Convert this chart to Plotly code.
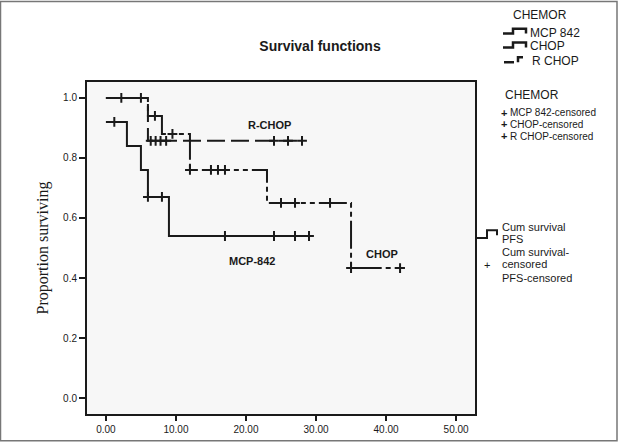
import plotly.graph_objects as go

# ---- data ----
mcp_t = [0, 3, 5, 6, 9, 29]
mcp_s = [0.92, 0.84, 0.76, 0.67, 0.54, 0.54]
mcp_cens_t = [1.2, 6, 8, 17, 24, 27, 29]
mcp_cens_s = [0.92, 0.67, 0.67, 0.54, 0.54, 0.54, 0.54]

rchop_t = [0, 6, 28]
rchop_s = [1.0, 0.857, 0.857]
rchop_cens_t = [2.2, 5, 6.4, 7.1, 7.8, 8.6, 24, 26, 28]
rchop_cens_s = [1.0, 1.0, 0.857, 0.857, 0.857, 0.857, 0.857, 0.857, 0.857]

chop_t = [0, 6, 8, 12, 23, 35, 42]
chop_s = [1.0, 0.94, 0.88, 0.76, 0.65, 0.433, 0.433]
chop_cens_t = [7, 9.5, 12, 15, 16, 17, 25, 27, 32, 35, 42]
chop_cens_s = [0.94, 0.88, 0.76, 0.76, 0.76, 0.76, 0.65, 0.65, 0.65, 0.433, 0.433]

x_ticks = [0, 10, 20, 30, 40, 50]
x_tick_labels = ["0.00", "10.00", "20.00", "30.00", "40.00", "50.00"]
y_ticks = [0, 0.2, 0.4, 0.6, 0.8, 1.0]
y_tick_labels = ["0.0", "0.2", "0.4", "0.6", "0.8", "1.0"]

W, H = 618, 447
L, R, T, B = 87, 143, 82, 29
PW, PH = W - L - R, H - T - B
INK = "#1a1a1a"


def px(x):
    return (x - L) / PW


def py(y):
    return (H - B - y) / PH


fig = go.Figure()

# curves
fig.add_trace(go.Scatter(x=mcp_t, y=mcp_s, mode="lines", line_shape="hv",
                         line=dict(color=INK, width=2), hoverinfo="skip"))
fig.add_trace(go.Scatter(x=rchop_t, y=rchop_s, mode="lines", line_shape="hv",
                         line=dict(color=INK, width=2, dash="18px,6px"), hoverinfo="skip"))
fig.add_trace(go.Scatter(x=chop_t, y=chop_s, mode="lines", line_shape="hv",
                         line=dict(color=INK, width=2, dash="5px,4px,5px,4px,28px,4px"),
                         hoverinfo="skip"))

# censor marks
for tx, sy in [(mcp_cens_t, mcp_cens_s), (rchop_cens_t, rchop_cens_s), (chop_cens_t, chop_cens_s)]:
    fig.add_trace(go.Scatter(x=tx, y=sy, mode="markers",
                             marker=dict(symbol="cross-thin", size=7,
                                         line=dict(color=INK, width=2)),
                             hoverinfo="skip"))

# in-plot labels
lab_font = dict(family="Liberation Sans, Arial", size=11, color=INK)
for txt, x, y in [("R-CHOP", 23.4, 0.91), ("MCP-842", 20.9, 0.457), ("CHOP", 39.4, 0.48)]:
    fig.add_annotation(x=x, y=y, text="<b>%s</b>" % txt, showarrow=False, font=lab_font)

shapes = []
# outer frame
shapes.append(dict(type="rect", xref="paper", yref="paper",
                   x0=px(0.5), x1=px(W - 1), y0=py(H - 2), y1=py(0.5),
                   line=dict(color="#777777", width=1.5), layer="below"))


def path_shape(pts, dash="solid", width=2.5):
    d = "M " + " L ".join("%f,%f" % (px(a), py(b)) for a, b in pts)
    return dict(type="path", xref="paper", yref="paper", path=d,
                line=dict(color=INK, width=width, dash=dash))


# top legend step icons
shapes.append(path_shape([(503, 33), (513, 33), (513, 28), (526, 28), (526, 33)]))
shapes.append(path_shape([(503, 47), (513, 47), (513, 42), (526, 42), (526, 47)]))
shapes.append(path_shape([(504, 62), (514, 62)]))
shapes.append(path_shape([(518, 62), (518, 57), (523, 57)]))
# right legend icon
shapes.append(path_shape([(476, 240), (487, 240), (487, 232), (497, 232), (497, 237)], width=2))

fig.update_layout(shapes=shapes)

ann_font = dict(family="Liberation Sans, Arial", color=INK)


def text(x, y, s, size, anchor="left"):
    fig.add_annotation(xref="paper", yref="paper", x=px(x), y=py(y), text=s,
                       showarrow=False, xanchor=anchor, yanchor="middle",
                       font=dict(size=size, **ann_font))


text(540, 14, "CHEMOR", 12, "center")
text(528, 32, "MCP 842", 12)
text(528, 46, "CHOP", 12)
text(530, 61, "R CHOP", 12)
text(503, 95, "CHEMOR", 12)
for yy, s in [(113, "MCP 842-censored"), (125, "CHOP-censored"), (137, "R CHOP-censored")]:
    text(499, yy, "<b>+</b>", 11)
    text(508, yy, s, 10)
text(500, 229, "Cum survival", 11)
text(500, 241, "PFS", 11)
text(500, 254, "Cum survival-", 11)
text(500, 266, "censored", 11)
text(500, 280, "PFS-censored", 11)
text(482, 267, "+", 11)

fig.update_layout(
    width=W, height=H,
    margin=dict(l=L, r=R, t=T, b=B, pad=0),
    paper_bgcolor="white",
    plot_bgcolor="#f7f7f7",
    showlegend=False,
    title=dict(text="<b>Survival functions</b>", x=px(320), xref="paper", xanchor="center",
               y=1 - 46 / H, yanchor="middle",
               font=dict(family="Liberation Sans, Arial", size=14, color=INK)),
    xaxis=dict(range=[-2.7, 52.7], tickvals=x_ticks, ticktext=x_tick_labels,
               showgrid=False, zeroline=False, showline=True, mirror=True,
               linecolor=INK, linewidth=2, ticks="outside", ticklen=5, tickwidth=2,
               tickcolor=INK,
               tickfont=dict(family="Liberation Sans, Arial", size=10, color=INK)),
    yaxis=dict(range=[-0.053, 1.053], tickvals=y_ticks, ticktext=y_tick_labels,
               showgrid=False, zeroline=False, showline=True, mirror=True,
               linecolor=INK, linewidth=2, ticks="outside", ticklen=6, tickwidth=2,
               tickcolor=INK,
               tickfont=dict(family="Liberation Sans, Arial", size=10, color=INK),
               title=dict(text="Proportion surviving", standoff=10,
                          font=dict(family="Liberation Serif, Times New Roman", size=16,
                                    color=INK))),
)

fig.write_html("out.html", config={"displayModeBar": False},
               post_script="document.body.style.margin='0px';document.body.style.overflow='hidden';")
